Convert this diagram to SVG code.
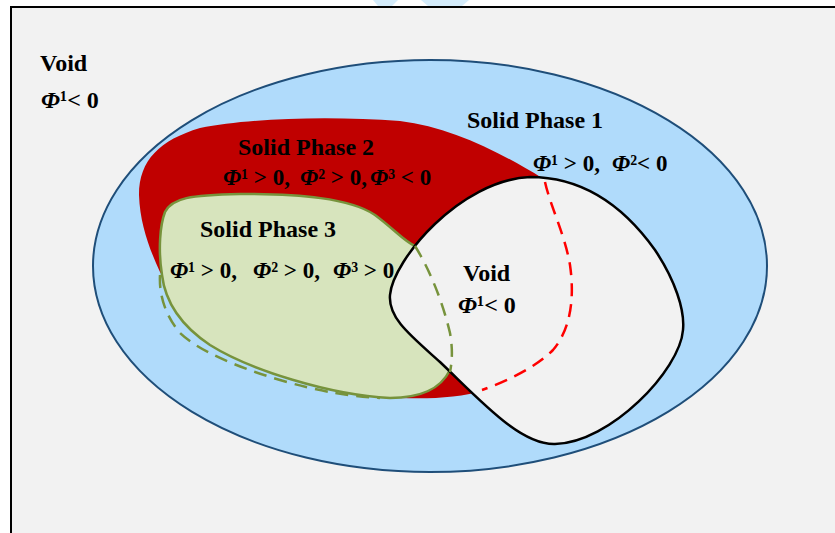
<svg xmlns="http://www.w3.org/2000/svg" width="835" height="533" viewBox="0 0 835 533">
<style>
.t{font-family:"Liberation Serif","Times New Roman",serif;font-weight:bold;font-size:24px;fill:#000}
.f{font-size:23px}
.p{font-style:italic}
.dash{fill:none;stroke-width:2.5;stroke-dasharray:13 8}
</style>
<rect x="0" y="0" width="835" height="533" fill="#ffffff"/>
<g id="watermark" fill="#d4ecfb">
<polygon points="373,0 398,0 392,6 378,6"/>
<polygon points="421,0 469,0 462,6 428,6"/>
</g>
<rect id="frame" x="11" y="7" width="840" height="540" fill="#f2f2f2" stroke="#000" stroke-width="2"/>
<g id="solid1">
<ellipse cx="430" cy="266" rx="337" ry="206" fill="#b0dbfb" stroke="#1f4e79" stroke-width="2"/>
</g>
<g id="solid2">
<path d="M160,272 C150,250 140,225 139,195 C139,160 160,140 200,128 C250,118 330,116 400,121 C450,127 500,152 542,178 C560,220 575,260 570,305 C565,345 530,372 485,390 C460,398 430,399 400,398 C300,395 200,330 160,272 Z" fill="#c00000"/>
</g>
<g id="solid3">
<path d="M162,275 C158,250 160,225 165,212 C172,198 190,195 240,194 C300,194 350,198 375,215 C395,230 405,242 415,246 C440,290 455,330 450,370 C440,390 420,398 390,398 C330,395 250,370 210,345 C180,325 165,300 162,275 Z" fill="#d7e4bd" stroke="#77933c" stroke-width="2.5"/>
</g>
<g id="void">
<path d="M530,177 C590,177 630,215 655,250 C675,280 685,310 683,330 C680,370 610,443 555,444 C520,445 480,400 440,362 C410,335 388,318 390,295 C393,260 460,180 530,177 Z" fill="#f2f2f2" stroke="#000" stroke-width="2.5"/>
</g>
<g id="connectors">
<path class="dash" stroke="#ff0000" d="M545,182 C550,205 565,235 570,265 C575,300 570,330 553,350 C535,368 505,382 482,390"/>
<path class="dash" stroke="#77933c" d="M415,246 C430,270 443,303 450,333 C453,350 452,362 450,372"/>
<path class="dash" stroke="#77933c" d="M160,275 C159,295 165,315 180,333 C200,352 240,368 280,380 C320,392 355,397 380,398"/>
</g>
<g id="labels">
<text class="t" x="40" y="71">Void</text>
<text class="t" x="41" y="108"><tspan class="p">Φ</tspan>¹&lt; 0</text>
<text class="t" x="467" y="128">Solid Phase 1</text>
<text class="t f" x="533" y="171"><tspan class="p">Φ</tspan>¹ &gt; 0,</text>
<text class="t f" x="612" y="171"><tspan class="p">Φ</tspan>²&lt; 0</text>
<text class="t" x="238" y="155">Solid Phase 2</text>
<text class="t f" x="223" y="185"><tspan class="p">Φ</tspan>¹ &gt; 0,</text>
<text class="t f" x="300" y="185"><tspan class="p">Φ</tspan>² &gt; 0,</text>
<text class="t f" x="370" y="185"><tspan class="p">Φ</tspan>³ &lt; 0</text>
<text class="t" x="200" y="237">Solid Phase 3</text>
<text class="t f" x="170" y="278"><tspan class="p">Φ</tspan>¹ &gt; 0,</text>
<text class="t f" x="253" y="278"><tspan class="p">Φ</tspan>² &gt; 0,</text>
<text class="t f" x="333" y="278"><tspan class="p">Φ</tspan>³ &gt; 0</text>
<text class="t" x="463" y="281">Void</text>
<text class="t" x="458" y="313"><tspan class="p">Φ</tspan>¹&lt; 0</text>
</g>
</svg>
